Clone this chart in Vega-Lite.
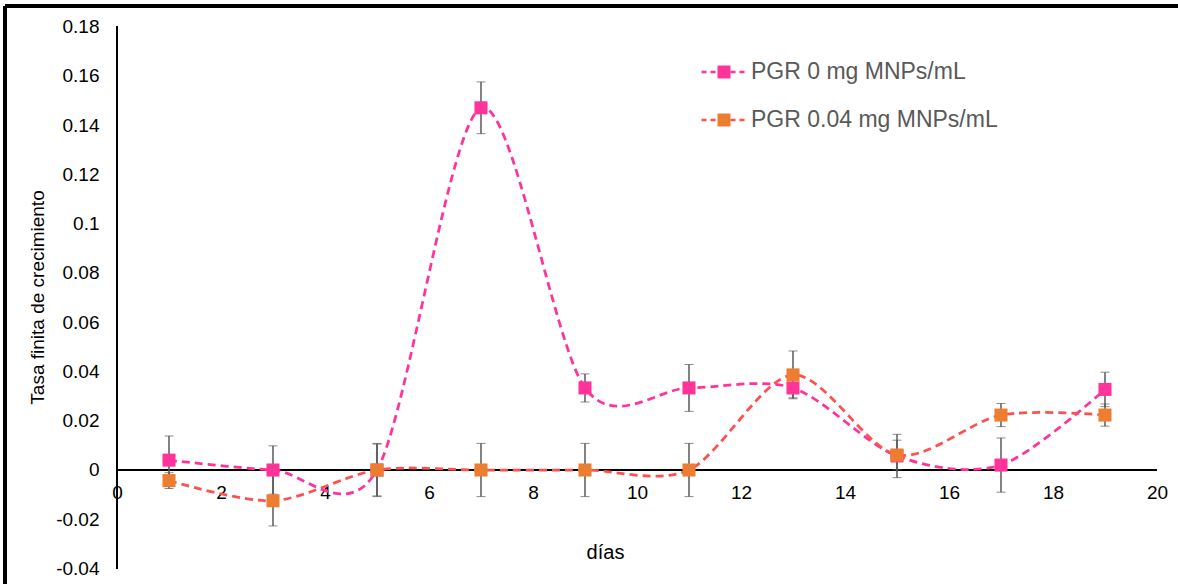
{
  "$schema": "https://vega.github.io/schema/vega-lite/v6.json",
  "autosize": "none",
  "padding": {"left": 5, "top": 6, "right": 0, "bottom": 0},
  "width": 1173,
  "height": 578,
  "background": "white",
  "config": {
    "view": {"stroke": null},
    "font": "Liberation Sans",
    "legend": {
      "orient": "none",
      "legendX": 707.5,
      "legendY": 54.5,
      "padding": 0,
      "symbolOpacity": 1,
      "labelFontSize": 23,
      "labelFont": "Liberation Sans",
      "labelColor": "#595959",
      "labelOffset": 15.5,
      "rowPadding": 24,
      "labelLimit": 400
    }
  },
  "data": {
    "values": [
      {"serie": "PGR 0 mg MNPs/mL", "dia": 1, "valor": 0.004, "err": 0.0098},
      {"serie": "PGR 0 mg MNPs/mL", "dia": 3, "valor": 0.0, "err": 0.0098},
      {"serie": "PGR 0 mg MNPs/mL", "dia": 5, "valor": 0.0, "err": 0.0105},
      {"serie": "PGR 0 mg MNPs/mL", "dia": 7, "valor": 0.147, "err": 0.0105},
      {"serie": "PGR 0 mg MNPs/mL", "dia": 9, "valor": 0.0333, "err": 0.0057},
      {"serie": "PGR 0 mg MNPs/mL", "dia": 11, "valor": 0.0333, "err": 0.0095},
      {"serie": "PGR 0 mg MNPs/mL", "dia": 13, "valor": 0.0333, "err": 0.004},
      {"serie": "PGR 0 mg MNPs/mL", "dia": 15, "valor": 0.0057, "err": 0.0088},
      {"serie": "PGR 0 mg MNPs/mL", "dia": 17, "valor": 0.002, "err": 0.011},
      {"serie": "PGR 0 mg MNPs/mL", "dia": 19, "valor": 0.0327, "err": 0.007},
      {"serie": "PGR 0.04 mg MNPs/mL", "dia": 1, "valor": -0.0043, "err": 0.0032},
      {"serie": "PGR 0.04 mg MNPs/mL", "dia": 3, "valor": -0.0125, "err": 0.0102},
      {"serie": "PGR 0.04 mg MNPs/mL", "dia": 5, "valor": 0.0, "err": 0.0108},
      {"serie": "PGR 0.04 mg MNPs/mL", "dia": 7, "valor": 0.0, "err": 0.0108},
      {"serie": "PGR 0.04 mg MNPs/mL", "dia": 9, "valor": 0.0, "err": 0.0108},
      {"serie": "PGR 0.04 mg MNPs/mL", "dia": 11, "valor": 0.0, "err": 0.0108},
      {"serie": "PGR 0.04 mg MNPs/mL", "dia": 13, "valor": 0.0386, "err": 0.0097},
      {"serie": "PGR 0.04 mg MNPs/mL", "dia": 15, "valor": 0.0061, "err": 0.006},
      {"serie": "PGR 0.04 mg MNPs/mL", "dia": 17, "valor": 0.0223, "err": 0.0047},
      {"serie": "PGR 0.04 mg MNPs/mL", "dia": 19, "valor": 0.0223, "err": 0.0045}
    ]
  },
  "encoding": {
    "x": {
      "field": "dia",
      "type": "quantitative",
      "scale": {"domain": [-2.1538, 20.404], "nice": false, "zero": false},
      "axis": {
        "orient": "bottom",
        "offset": -114,
        "values": [0, 2, 4, 6, 8, 10, 12, 14, 16, 18, 20],
        "domain": false,
        "ticks": false,
        "grid": false,
        "labelFontSize": 19,
        "labelColor": "#000000",
        "labelPadding": 13.5,
        "labelFlush": false,
        "labelOverlap": false,
        "title": "días",
        "titleFontSize": 20,
        "titleFontWeight": "normal",
        "titleColor": "#000000",
        "titleX": 600,
        "titleY": 82,
        "titleBaseline": "middle",
        "titleAnchor": null
      }
    },
    "y": {
      "field": "valor",
      "type": "quantitative",
      "scale": {"domain": [-0.046266, 0.18831], "nice": false, "zero": false},
      "axis": {
        "orient": "left",
        "offset": -112,
        "values": [-0.04, -0.02, 0, 0.02, 0.04, 0.06, 0.08, 0.1, 0.12, 0.14, 0.16, 0.18],
        "labelExpr": "'' + datum.value",
        "domain": false,
        "ticks": false,
        "grid": false,
        "labelFontSize": 19,
        "labelColor": "#000000",
        "labelPadding": 18,
        "labelOverlap": false,
        "labelFlush": false,
        "title": "Tasa finita de crecimiento",
        "titleFontSize": 19,
        "titleFontWeight": "normal",
        "titleColor": "#000000",
        "titleX": -80,
        "titleY": 291,
        "titleBaseline": "middle",
        "titleAnchor": null
      }
    }
  },
  "layer": [
    {
      "mark": {"type": "rule", "color": "#000000", "strokeWidth": 2.4},
      "encoding": {
        "x": {"datum": -2.1538},
        "y": {"datum": -0.046266},
        "y2": {"datum": 0.18831}
      }
    },
    {
      "mark": {"type": "rule", "color": "#000000", "strokeWidth": 2.4},
      "encoding": {
        "y": {"datum": 0.18831},
        "x": {"datum": -2.1538},
        "x2": {"datum": 20.404}
      }
    },
    {
      "mark": {"type": "rule", "color": "#000000", "strokeWidth": 1.5},
      "encoding": {
        "x": {"datum": 0},
        "y": {"datum": -0.04},
        "y2": {"datum": 0.18}
      }
    },
    {
      "mark": {"type": "rule", "color": "#000000", "strokeWidth": 1.5},
      "encoding": {
        "y": {"datum": 0},
        "x": {"datum": 0},
        "x2": {"datum": 20}
      }
    },
    {
      "mark": {
        "type": "line",
        "interpolate": "cardinal",
        "tension": 0.12,
        "strokeDash": [8, 5],
        "strokeWidth": 2.75
      },
      "encoding": {
        "stroke": {
          "field": "serie",
          "type": "nominal",
          "scale": {"range": ["#FF3399", "#FF5050"]},
          "legend": {
            "title": null,
            "symbolType": "M-3.46,0H-1M1,0H3.46",
            "symbolSize": 169,
            "symbolDash": [5, 4],
            "symbolStrokeWidth": 2.5
          }
        }
      }
    },
    {
      "mark": {
        "type": "errorbar",
        "ticks": {"size": 9, "color": "#595959", "strokeWidth": 1.5},
        "rule": {"color": "#595959", "strokeWidth": 1.5}
      },
      "encoding": {
        "yError": {"field": "err"}
      }
    },
    {
      "mark": {"type": "point", "shape": "square", "filled": true, "size": 170, "opacity": 1},
      "encoding": {
        "fill": {
          "field": "serie",
          "type": "nominal",
          "scale": {
            "domain": ["PGR 0 mg MNPs/mL", "PGR 0.04 mg MNPs/mL"],
            "range": ["#FF3399", "#ED7D31"]
          },
          "legend": {
            "title": null,
            "symbolType": "square",
            "symbolSize": 169,
            "symbolStrokeWidth": 0,
            "labelOpacity": 0
          }
        }
      }
    }
  ]
}
